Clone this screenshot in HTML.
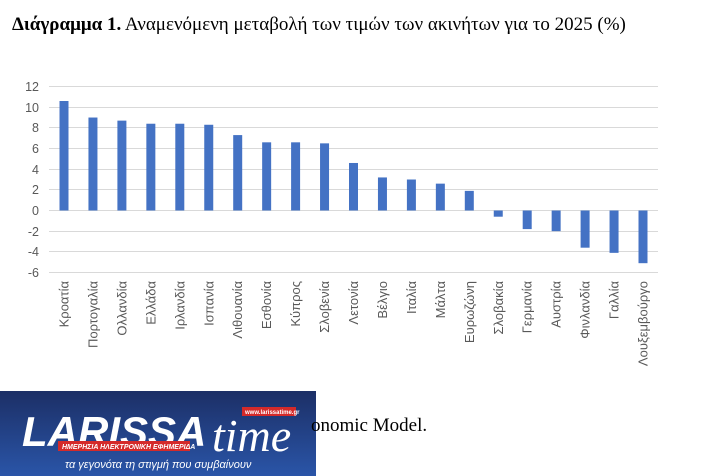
<!DOCTYPE html>
<html><head><meta charset="utf-8"><style>
body{margin:0;width:704px;height:476px;background:#fff;overflow:hidden;position:relative}
.t{position:absolute;left:12px;top:14px;font:19px "Liberation Serif",serif;color:#000;white-space:nowrap}
.m{position:absolute;left:311px;top:415px;font:19px "Liberation Serif",serif}
</style></head><body>
<div class="t"><b>Διάγραμμα 1.</b> Αναμενόμενη μεταβολή των τιμών των ακινήτων για το 2025 (%)</div>
<svg width="704" height="476" style="position:absolute;left:0;top:0" font-family="Liberation Sans, sans-serif">
<g stroke="#d9d9d9" stroke-width="1">
<line x1="49" x2="658" y1="86.5" y2="86.5"/><line x1="49" x2="658" y1="107.5" y2="107.5"/>
<line x1="49" x2="658" y1="127.5" y2="127.5"/><line x1="49" x2="658" y1="148.5" y2="148.5"/>
<line x1="49" x2="658" y1="169.5" y2="169.5"/><line x1="49" x2="658" y1="189.5" y2="189.5"/>
<line x1="49" x2="658" y1="210.5" y2="210.5"/><line x1="49" x2="658" y1="231.5" y2="231.5"/>
<line x1="49" x2="658" y1="251.5" y2="251.5"/><line x1="49" x2="658" y1="272.5" y2="272.5"/>
</g>
<g font-size="12.5" fill="#595959" text-anchor="end">
<text x="39" y="91">12</text><text x="39" y="112">10</text><text x="39" y="132">8</text>
<text x="39" y="153">6</text><text x="39" y="174">4</text><text x="39" y="194">2</text>
<text x="39" y="215">0</text><text x="39" y="236">-2</text><text x="39" y="256">-4</text><text x="39" y="277">-6</text>
</g>
<g id="bars" fill="#4472c4"></g>
<g id="lbl" font-size="13" fill="#595959" text-anchor="end"></g>
<defs><linearGradient id="g" x1="0" y1="0" x2="0" y2="1"><stop offset="0" stop-color="#1c2f66"/><stop offset="1" stop-color="#2a55a8"/></linearGradient></defs>
<rect x="0" y="391" width="316" height="85" fill="url(#g)"/>
<text x="22" y="446" font-size="42" font-weight="bold" font-style="italic" fill="#fff">LARISSA</text>
<text x="212" y="451" font-size="46" font-style="italic" font-family="Liberation Serif, serif" fill="#fff">time</text>
<rect x="242" y="407" width="54" height="9" fill="#d42a2a"/>
<text x="245" y="414" font-size="6" fill="#fff" font-weight="bold">www.larissatime.gr</text>
<rect x="58" y="441" width="132" height="10" fill="#d42a2a"/>
<text x="62" y="449" font-size="7" fill="#fff" font-weight="bold" font-style="italic">ΗΜΕΡΗΣΙΑ ΗΛΕΚΤΡΟΝΙΚΗ ΕΦΗΜΕΡΙΔΑ</text>
<text x="65" y="468" font-size="11" fill="#fff" font-style="italic">τα γεγονότα τη στιγμή που συμβαίνουν</text>
</svg>
<div class="m">onomic Model.</div>
<script>
var v=[10.6,9.0,8.7,8.4,8.4,8.3,7.3,6.6,6.6,6.5,4.6,3.2,3.0,2.6,1.9,-0.6,-1.8,-2.0,-3.6,-4.1,-5.1];
var n=["Κροατία","Πορτογαλία","Ολλανδία","Ελλάδα","Ιρλανδία","Ισπανία","Λιθουανία","Εσθονία","Κύπρος","Σλοβενία","Λετονία","Βέλγιο","Ιταλία","Μάλτα","Ευρωζώνη","Σλοβακία","Γερμανία","Αυστρία","Φινλανδία","Γαλλία","Λουξεμβούργο"];
var b="",l="";
for(var i=0;i<21;i++){var c=64+i*28.95,h=v[i]*10.33,y=v[i]>0?210.5-h:210.5;
b+='<rect x="'+(c-4.5)+'" y="'+y+'" width="9" height="'+Math.abs(h)+'"/>';
l+='<text transform="translate('+(c+4.5)+',281) rotate(-90)">'+n[i]+'</text>';}
document.getElementById("bars").innerHTML=b;document.getElementById("lbl").innerHTML=l;
</script>
</body></html>
